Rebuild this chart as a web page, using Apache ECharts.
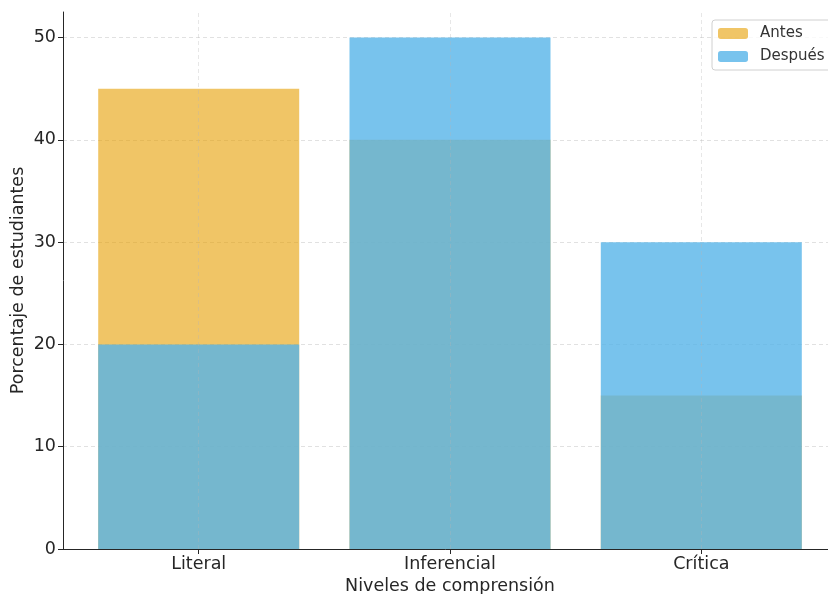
<!DOCTYPE html>
<html><head><meta charset="utf-8">
<script src="https://cdn.jsdelivr.net/npm/echarts@6/dist/echarts.min.js"></script>
<style>html,body{margin:0;padding:0;background:#fff}#c{width:828px;height:594px}</style>
</head><body><div id="c"></div>
<script>
const categories = ['Literal', 'Inferencial', 'Crítica'];
const antes = [45, 40, 15];
const despues = [20, 50, 30];
const yTicks = [0, 10, 20, 30, 40, 50];

const chart = echarts.init(document.getElementById('c'), null, {renderer: 'canvas'});
const font = 'DejaVu Sans';
const idx = categories.map((c, i) => i);
chart.setOption({
  animation: false,
  textStyle: {fontFamily: font},
  legend: {
    left: 712, top: 20,
    orient: 'vertical',
    itemWidth: 30, itemHeight: 11, itemGap: 8,
    padding: [6, 8, 6, 6],
    borderColor: '#d0d0d0', borderWidth: 1, borderRadius: 3,
    backgroundColor: 'rgba(255,255,255,0.8)',
    textStyle: {fontFamily: font, fontSize: 15, color: '#333', padding: [0, 0, 0, 7]},
    data: ['Antes', 'Después']
  },
  grid: {left: 63, top: 12, width: 774, bottom: 45, containLabel: false, outerBoundsMode: 'none'},
  xAxis: {
    type: 'value', min: -0.54, max: 2.54,
    name: 'Niveles de comprensión', nameLocation: 'middle', nameGap: 28, nameMoveOverlap: false,
    nameTextStyle: {fontFamily: font, fontSize: 17.5, color: '#262626'},
    axisLine: {show: true, onZero: false, lineStyle: {color: '#262626', width: 1}},
    axisTick: {show: true, length: 5, customValues: idx, lineStyle: {color: '#262626'}},
    axisLabel: {customValues: idx, formatter: v => categories[Math.round(v)] || '', fontSize: 17.5, color: '#262626', margin: 6},
    splitLine: {show: false}
  },
  yAxis: {
    type: 'value', min: 0, max: 52.5,
    name: 'Porcentaje de estudiantes', nameLocation: 'middle', nameGap: 36, nameMoveOverlap: false,
    nameTextStyle: {fontFamily: font, fontSize: 17.5, color: '#262626'},
    axisLine: {show: true, onZero: false, lineStyle: {color: '#262626', width: 1}},
    axisTick: {show: true, length: 5, customValues: yTicks, lineStyle: {color: '#262626'}},
    axisLabel: {customValues: yTicks, fontSize: 17.5, color: '#262626', margin: 7},
    splitLine: {show: true, lineStyle: {color: '#d9d9d9', type: [4, 3], width: 0.8}}
  },
  series: [
    {
      name: 'Antes', type: 'bar', barWidth: 201, barGap: '-100%', z: 2,
      itemStyle: {color: 'rgba(230,159,0,0.6)'},
      data: antes.map((v, i) => [i, v]),
      markLine: {
        silent: true, symbol: 'none', label: {show: false}, z: 5,
        lineStyle: {color: 'rgba(180,180,180,0.4)', type: [4, 3], width: 0.8},
        data: idx.map(i => ({xAxis: i}))
      }
    },
    {
      name: 'Después', type: 'bar', barWidth: 201, barGap: '-100%', z: 3,
      itemStyle: {color: 'rgba(86,180,233,0.8)'},
      data: despues.map((v, i) => [i, v])
    }
  ]
});
</script></body></html>
